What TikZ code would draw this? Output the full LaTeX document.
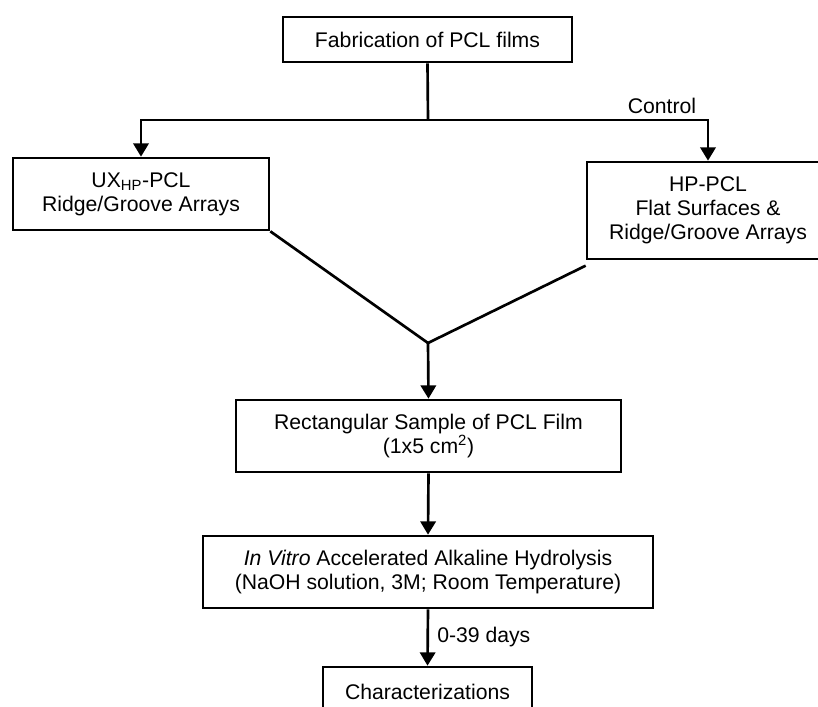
\documentclass[tikz,border=0pt]{standalone}
\usepackage{fontspec}
\setmainfont{Liberation Sans}
\usetikzlibrary{arrows.meta}
\begin{document}
\begin{tikzpicture}[x=0.75pt,y=-0.75pt,
  every node/.style={font=\fontsize{15.9}{18}\selectfont},
  stepbox/.style={draw,line width=2pt,inner sep=0pt,align=center},
  link/.style={line width=2pt},
  flow/.style={link,-{Triangle[length=10pt,width=11.5pt]}},
  lbl/.style={inner sep=0pt}]
\useasboundingbox (0,0) rectangle (818,707);
\clip (0,0) rectangle (818,707);
\fill[white] (0,0) rectangle (818,707);

% process boxes
\node[stepbox,minimum width=216.75pt,minimum height=33.75pt] (fab) at (427.5,39.5) {Fabrication of PCL films};
\node[stepbox,minimum width=192pt,minimum height=54pt] (ux) at (141,194) {UX\textsubscript{HP}-PCL\\Ridge/Groove Arrays};
\node[stepbox,minimum width=181.5pt,minimum height=72.75pt] (hp) at (708,210.5) {HP-PCL\\Flat Surfaces \&\\Ridge/Groove Arrays};
\node[stepbox,minimum width=288.75pt,minimum height=54pt] (rect) at (428.5,436) {Rectangular Sample of PCL Film\\(1x5 cm\textsuperscript{2})};
\node[stepbox,minimum width=337.5pt,minimum height=54pt] (hyd) at (428,572) {\textit{In Vitro} Accelerated Alkaline Hydrolysis\\(NaOH solution, 3M; Room Temperature)};
\node[stepbox,minimum width=156.75pt,minimum height=37.5pt] (chr) at (427.5,692) {Characterizations};

% branching from fabrication
\coordinate (split) at (428,120);
\coordinate (join) at (428,343);
\draw[link] (fab.south) -- (split);
\draw[flow] (split) -- (split -| ux.north) -- (ux.north);
\draw[flow] (split) -- (split -| hp.north) -- (hp.north);
\node[lbl] (ctl) at (662,106) {Control};

% merging into the sample
\draw[link] (ux.south east) -- (join);
\draw[link] ([yshift=-4pt]hp.south west) -- (join);
\draw[flow] (join) -- (rect.north);
\draw[flow] (rect.south) -- (hyd.north);
\draw[flow] (hyd.south) -- (chr.north);
\node[lbl,anchor=west] (days) at (437,637) {0-39 days};
\end{tikzpicture}
\end{document}
